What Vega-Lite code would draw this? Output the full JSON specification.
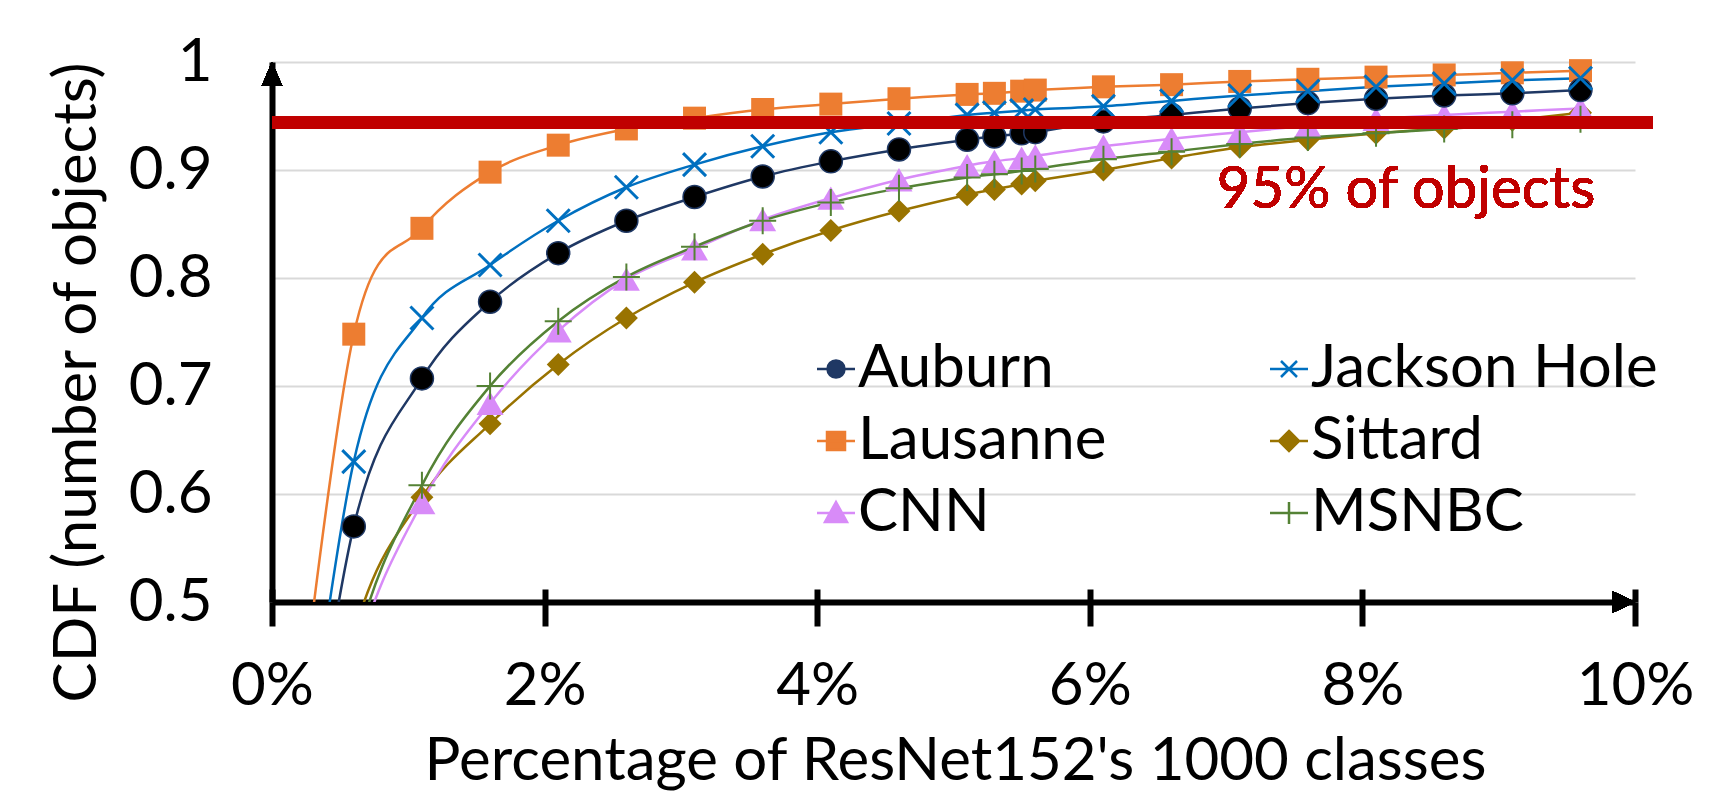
{
  "$schema": "https://vega.github.io/schema/vega-lite/v6.json",
  "width": 1363,
  "height": 540,
  "autosize": {"type": "none"},
  "padding": {"left": 272, "top": 62, "right": 78, "bottom": 190},
  "background": "white",
  "config": {
    "font": "Lato",
    "view": {"stroke": null},
    "axis": {"labelFont": "Lato", "labelFontSize": 60, "labelColor": "black", "titleFont": "Lato", "titleFontSize": 60, "titleFontWeight": "normal", "titleColor": "black"},
    "legend": {"labelFont": "Lato", "labelFontSize": 60, "labelColor": "black", "labelLimit": 0}
  },
  "data": {"values": [
    {"series":"Auburn","x":0.1,"y":0.18},{"series":"Auburn","x":0.6,"y":0.570},{"series":"Auburn","x":1.1,"y":0.707},{"series":"Auburn","x":1.6,"y":0.778},{"series":"Auburn","x":2.1,"y":0.823},{"series":"Auburn","x":2.6,"y":0.853},{"series":"Auburn","x":3.1,"y":0.875},{"series":"Auburn","x":3.6,"y":0.894},{"series":"Auburn","x":4.1,"y":0.908},{"series":"Auburn","x":4.6,"y":0.919},{"series":"Auburn","x":5.1,"y":0.928},{"series":"Auburn","x":5.3,"y":0.931},{"series":"Auburn","x":5.5,"y":0.934},{"series":"Auburn","x":5.6,"y":0.935},{"series":"Auburn","x":6.1,"y":0.945},{"series":"Auburn","x":6.6,"y":0.951},{"series":"Auburn","x":7.1,"y":0.957},{"series":"Auburn","x":7.6,"y":0.962},{"series":"Auburn","x":8.1,"y":0.966},{"series":"Auburn","x":8.6,"y":0.969},{"series":"Auburn","x":9.1,"y":0.971},{"series":"Auburn","x":9.6,"y":0.974},
    {"series":"Jackson Hole","x":0.1,"y":0.2},{"series":"Jackson Hole","x":0.6,"y":0.630},{"series":"Jackson Hole","x":1.1,"y":0.763},{"series":"Jackson Hole","x":1.6,"y":0.812},{"series":"Jackson Hole","x":2.1,"y":0.853},{"series":"Jackson Hole","x":2.6,"y":0.884},{"series":"Jackson Hole","x":3.1,"y":0.905},{"series":"Jackson Hole","x":3.6,"y":0.922},{"series":"Jackson Hole","x":4.1,"y":0.935},{"series":"Jackson Hole","x":4.6,"y":0.943},{"series":"Jackson Hole","x":5.1,"y":0.951},{"series":"Jackson Hole","x":5.3,"y":0.953},{"series":"Jackson Hole","x":5.5,"y":0.955},{"series":"Jackson Hole","x":5.6,"y":0.956},{"series":"Jackson Hole","x":6.1,"y":0.959},{"series":"Jackson Hole","x":6.6,"y":0.964},{"series":"Jackson Hole","x":7.1,"y":0.969},{"series":"Jackson Hole","x":7.6,"y":0.973},{"series":"Jackson Hole","x":8.1,"y":0.977},{"series":"Jackson Hole","x":8.6,"y":0.980},{"series":"Jackson Hole","x":9.1,"y":0.983},{"series":"Jackson Hole","x":9.6,"y":0.985},
    {"series":"Lausanne","x":0.1,"y":0.28},{"series":"Lausanne","x":0.6,"y":0.748},{"series":"Lausanne","x":1.1,"y":0.846},{"series":"Lausanne","x":1.6,"y":0.898},{"series":"Lausanne","x":2.1,"y":0.923},{"series":"Lausanne","x":2.6,"y":0.938},{"series":"Lausanne","x":3.1,"y":0.948},{"series":"Lausanne","x":3.6,"y":0.956},{"series":"Lausanne","x":4.1,"y":0.961},{"series":"Lausanne","x":4.6,"y":0.966},{"series":"Lausanne","x":5.1,"y":0.970},{"series":"Lausanne","x":5.3,"y":0.971},{"series":"Lausanne","x":5.5,"y":0.973},{"series":"Lausanne","x":5.6,"y":0.974},{"series":"Lausanne","x":6.1,"y":0.977},{"series":"Lausanne","x":6.6,"y":0.979},{"series":"Lausanne","x":7.1,"y":0.982},{"series":"Lausanne","x":7.6,"y":0.984},{"series":"Lausanne","x":8.1,"y":0.986},{"series":"Lausanne","x":8.6,"y":0.988},{"series":"Lausanne","x":9.1,"y":0.990},{"series":"Lausanne","x":9.6,"y":0.992},
    {"series":"Sittard","x":0.1,"y":0.15},{"series":"Sittard","x":0.6,"y":0.47},{"series":"Sittard","x":1.1,"y":0.597},{"series":"Sittard","x":1.6,"y":0.665},{"series":"Sittard","x":2.1,"y":0.720},{"series":"Sittard","x":2.6,"y":0.763},{"series":"Sittard","x":3.1,"y":0.796},{"series":"Sittard","x":3.6,"y":0.822},{"series":"Sittard","x":4.1,"y":0.844},{"series":"Sittard","x":4.6,"y":0.862},{"series":"Sittard","x":5.1,"y":0.877},{"series":"Sittard","x":5.3,"y":0.882},{"series":"Sittard","x":5.5,"y":0.887},{"series":"Sittard","x":5.6,"y":0.890},{"series":"Sittard","x":6.1,"y":0.900},{"series":"Sittard","x":6.6,"y":0.911},{"series":"Sittard","x":7.1,"y":0.921},{"series":"Sittard","x":7.6,"y":0.928},{"series":"Sittard","x":8.1,"y":0.934},{"series":"Sittard","x":8.6,"y":0.939},{"series":"Sittard","x":9.1,"y":0.946},{"series":"Sittard","x":9.6,"y":0.953},
    {"series":"CNN","x":0.1,"y":0.12},{"series":"CNN","x":0.6,"y":0.44},{"series":"CNN","x":1.1,"y":0.592},{"series":"CNN","x":1.6,"y":0.684},{"series":"CNN","x":2.1,"y":0.751},{"series":"CNN","x":2.6,"y":0.799},{"series":"CNN","x":3.1,"y":0.827},{"series":"CNN","x":3.6,"y":0.854},{"series":"CNN","x":4.1,"y":0.874},{"series":"CNN","x":4.6,"y":0.891},{"series":"CNN","x":5.1,"y":0.904},{"series":"CNN","x":5.3,"y":0.908},{"series":"CNN","x":5.5,"y":0.911},{"series":"CNN","x":5.6,"y":0.913},{"series":"CNN","x":6.1,"y":0.922},{"series":"CNN","x":6.6,"y":0.929},{"series":"CNN","x":7.1,"y":0.935},{"series":"CNN","x":7.6,"y":0.941},{"series":"CNN","x":8.1,"y":0.947},{"series":"CNN","x":8.6,"y":0.951},{"series":"CNN","x":9.1,"y":0.954},{"series":"CNN","x":9.6,"y":0.957},
    {"series":"MSNBC","x":0.1,"y":0.1},{"series":"MSNBC","x":0.6,"y":0.45},{"series":"MSNBC","x":1.1,"y":0.608},{"series":"MSNBC","x":1.6,"y":0.700},{"series":"MSNBC","x":2.1,"y":0.760},{"series":"MSNBC","x":2.6,"y":0.801},{"series":"MSNBC","x":3.1,"y":0.829},{"series":"MSNBC","x":3.6,"y":0.853},{"series":"MSNBC","x":4.1,"y":0.870},{"series":"MSNBC","x":4.6,"y":0.883},{"series":"MSNBC","x":5.1,"y":0.893},{"series":"MSNBC","x":5.3,"y":0.896},{"series":"MSNBC","x":5.5,"y":0.899},{"series":"MSNBC","x":5.6,"y":0.901},{"series":"MSNBC","x":6.1,"y":0.910},{"series":"MSNBC","x":6.6,"y":0.917},{"series":"MSNBC","x":7.1,"y":0.924},{"series":"MSNBC","x":7.6,"y":0.930},{"series":"MSNBC","x":8.1,"y":0.934},{"series":"MSNBC","x":8.6,"y":0.938},{"series":"MSNBC","x":9.1,"y":0.942},{"series":"MSNBC","x":9.6,"y":0.947}
  ]},
  "resolve": {"axis": {"x": "independent", "y": "independent"}},
  "layer": [
    {
      "mark": {"type": "line", "interpolate": "cardinal", "strokeWidth": 2.5, "clip": true},
      "encoding": {
        "x": {"field": "x", "type": "quantitative", "scale": {"domain": [0, 10], "nice": false, "zero": false},
          "axis": {"orient": "bottom", "values": [0, 2, 4, 6, 8, 10], "labelExpr": "datum.value + '%'", "grid": false, "domainColor": "black", "domainWidth": 6, "tickColor": "black", "tickWidth": 6, "tickSize": 24, "labelPadding": 78, "labelBaseline": "alphabetic", "labelFlush": false, "labelOverlap": false,
            "title": "Percentage of ResNet152's 1000 classes", "titleX": 683, "titleY": 177, "titleBaseline": "alphabetic", "titleAlign": "center", "titleAnchor": null}},
        "y": {"field": "y", "type": "quantitative", "scale": {"domain": [0.5, 1], "nice": false, "zero": false},
          "axis": {"orient": "left", "values": [0.5, 0.6, 0.7, 0.8, 0.9, 1], "format": ".1~f", "grid": true, "gridColor": "#D9D9D9", "gridWidth": 2, "ticks": false, "domainColor": "black", "domainWidth": 6, "labelPadding": 60, "labelBaseline": "middle",
            "title": "CDF (number of objects)", "titleX": -177, "titleY": 320, "titleBaseline": "alphabetic", "titleAlign": "center", "titleAnchor": null, "titleAngle": -90}},
        "color": {"field": "series", "type": "nominal",
          "scale": {"domain": ["Auburn", "Jackson Hole", "Lausanne", "Sittard", "CNN", "MSNBC"], "range": ["#1F3864", "#0070C0", "#ED7D31", "#997300", "#D88BF8", "#548235"]},
          "legend": {"title": null, "orient": "none", "direction": "horizontal", "gridAlign": "all", "legendX": 534, "legendY": 277, "columns": 2, "columnPadding": 54, "rowPadding": 12, "padding": 0, "symbolSize": 400, "labelOffset": -8, "labelFontSize": 60, "labelLimit": 0,
            "encode": {"symbols": {"update": {
              "shape": {"signal": "datum.value === 'Auburn' ? 'M-1.9,0H-0.85M0.85,0H1.9M-0.85,0A0.85,0.85 0 1,1 0.85,0A0.85,0.85 0 1,1 -0.85,0Z' : datum.value === 'Jackson Hole' ? 'M-1.9,0H1.9M-0.8,-0.8L0.8,0.8M-0.8,0.8L0.8,-0.8' : datum.value === 'Lausanne' ? 'M-1.9,0H1.9M-0.9,-0.9H0.9V0.9H-0.9Z' : datum.value === 'Sittard' ? 'M-1.9,0H1.9M0,-1L1,0L0,1L-1,0Z' : datum.value === 'CNN' ? 'M-1.9,0H1.9M0,-1.1L1.1,0.9L-1.1,0.9Z' : 'M-1.9,0H1.9M0,-1.1V1.1'"},
              "fill": {"signal": "datum.value === 'Auburn' ? 'black' : (datum.value === 'Jackson Hole' || datum.value === 'MSNBC') ? 'transparent' : scale('color', datum.value)"},
              "stroke": {"signal": "scale('color', datum.value)"},
              "strokeWidth": {"value": 2.5},
              "size": {"value": 400},
              "opacity": {"value": 1},
              "fillOpacity": {"value": 1},
              "strokeOpacity": {"value": 1}
            }}}}}
      }
    },
    {
      "transform": [{"filter": "datum.series === 'Lausanne' && datum.y >= 0.5"}],
      "mark": {"type": "point", "shape": "square", "filled": true, "size": 529, "opacity": 1},
      "encoding": {
        "x": {"field": "x", "type": "quantitative", "axis": {"orient": "bottom", "values": [0, 2, 4, 6, 8, 10], "labels": false, "domain": false, "grid": false, "title": null, "tickSize": -13, "tickWidth": 6, "tickColor": "black"}},
        "y": {"field": "y", "type": "quantitative", "axis": null},
        "color": {"field": "series", "type": "nominal", "legend": null}
      }
    },
    {
      "transform": [{"filter": "datum.series === 'Sittard' && datum.y >= 0.5"}],
      "mark": {"type": "point", "shape": "diamond", "filled": true, "size": 529, "opacity": 1},
      "encoding": {
        "x": {"field": "x", "type": "quantitative", "axis": null},
        "y": {"field": "y", "type": "quantitative", "axis": null},
        "color": {"field": "series", "type": "nominal", "legend": null}
      }
    },
    {
      "transform": [{"filter": "datum.series === 'CNN' && datum.y >= 0.5"}],
      "mark": {"type": "point", "shape": "triangle-up", "filled": true, "size": 729, "opacity": 1},
      "encoding": {
        "x": {"field": "x", "type": "quantitative", "axis": null},
        "y": {"field": "y", "type": "quantitative", "axis": null},
        "color": {"field": "series", "type": "nominal", "legend": null}
      }
    },
    {
      "transform": [{"filter": "datum.series === 'Auburn' && datum.y >= 0.5"}],
      "mark": {"type": "point", "shape": "circle", "fill": "black", "stroke": "#1F3864", "strokeWidth": 1.5, "size": 529, "opacity": 1},
      "encoding": {
        "x": {"field": "x", "type": "quantitative", "axis": null},
        "y": {"field": "y", "type": "quantitative", "axis": null}
      }
    },
    {
      "transform": [{"filter": "datum.series === 'Jackson Hole' && datum.y >= 0.5"}],
      "mark": {"type": "point", "shape": "M-1,-1L1,1M-1,1L1,-1", "filled": false, "strokeWidth": 3, "size": 529, "opacity": 1},
      "encoding": {
        "x": {"field": "x", "type": "quantitative", "axis": null},
        "y": {"field": "y", "type": "quantitative", "axis": null},
        "color": {"field": "series", "type": "nominal", "legend": null}
      }
    },
    {
      "transform": [{"filter": "datum.series === 'MSNBC' && datum.y >= 0.5"}],
      "mark": {"type": "point", "shape": "M-1,0H1M0,-1V1", "filled": false, "strokeWidth": 2, "size": 729, "opacity": 1},
      "encoding": {
        "x": {"field": "x", "type": "quantitative", "axis": null},
        "y": {"field": "y", "type": "quantitative", "axis": null},
        "color": {"field": "series", "type": "nominal", "legend": null}
      }
    },
    {
      "mark": {"type": "rule", "color": "#C00000", "strokeWidth": 13, "clip": false},
      "encoding": {
        "x": {"datum": 0, "type": "quantitative", "axis": null},
        "x2": {"datum": 10.13},
        "y": {"datum": 0.944, "type": "quantitative", "axis": null}
      }
    },
    {
      "mark": {"type": "text", "text": "95% of objects", "color": "#C00000", "font": "Lato", "fontSize": 58, "align": "center", "baseline": "alphabetic"},
      "encoding": {
        "x": {"datum": 8.32, "type": "quantitative", "axis": null},
        "y": {"datum": 0.865, "type": "quantitative", "axis": null}
      }
    },
    {
      "mark": {"type": "point", "shape": "M0,0L0.85,2L-0.85,2Z", "size": 576, "filled": true, "color": "black", "opacity": 1, "clip": false},
      "encoding": {
        "x": {"datum": 0, "type": "quantitative", "axis": null},
        "y": {"datum": 1, "type": "quantitative", "axis": null}
      }
    },
    {
      "mark": {"type": "point", "shape": "M0,0L-2,-0.95L-2,0.95Z", "size": 529, "filled": true, "color": "black", "opacity": 1, "clip": false},
      "encoding": {
        "x": {"datum": 10, "type": "quantitative", "axis": null},
        "y": {"datum": 0.5, "type": "quantitative", "axis": null}
      }
    }
  ]
}
